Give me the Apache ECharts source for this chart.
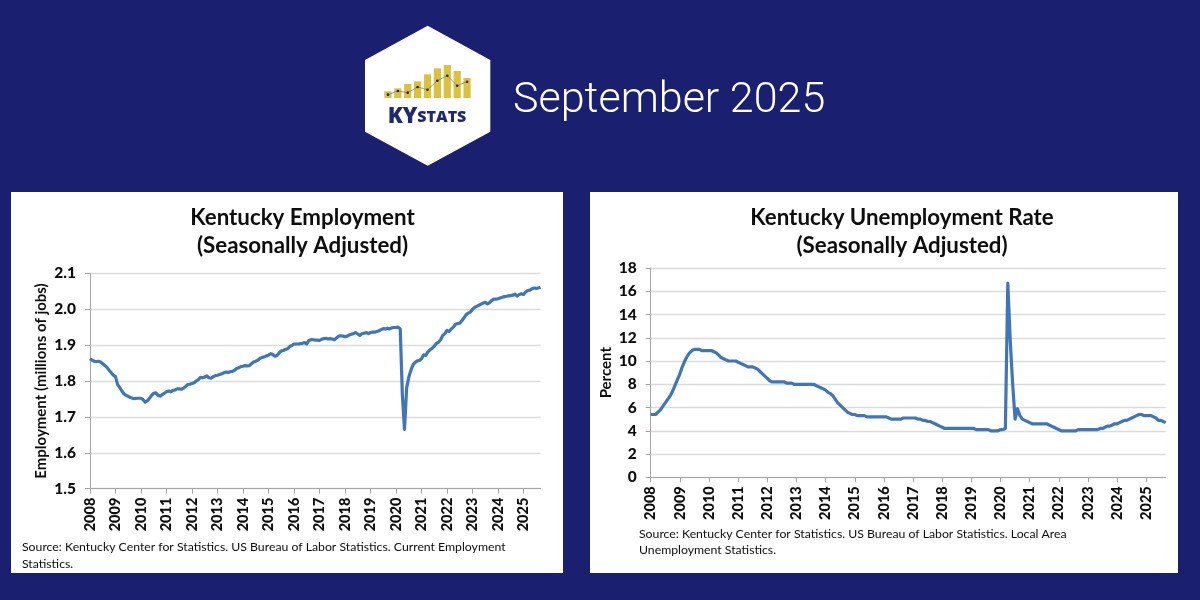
<!DOCTYPE html>
<html><head><meta charset="utf-8">
<style>html,body{margin:0;padding:0;background:#1a206f}#c{width:1200px;height:600px}</style>
<script src="https://cdn.jsdelivr.net/npm/echarts@6/dist/echarts.min.js"></script>
</head><body><div id="c"></div>
<script>
const years = [2008,2009,2010,2011,2012,2013,2014,2015,2016,2017,2018,2019,2020,2021,2022,2023,2024,2025];
const months = ['01','02','03','04','05','06','07','08','09','10','11','12'];
const employment = [
1.862,1.858,1.855,1.854,1.855,1.853,1.848,1.843,1.838,1.830,1.823,1.816,
1.812,1.790,1.782,1.772,1.764,1.760,1.757,1.754,1.752,1.751,1.752,1.752,
1.752,1.748,1.741,1.745,1.752,1.760,1.766,1.767,1.760,1.758,1.762,1.766,
1.770,1.772,1.770,1.774,1.775,1.778,1.778,1.777,1.780,1.785,1.790,1.791,
1.793,1.795,1.800,1.804,1.810,1.809,1.811,1.814,1.809,1.808,1.812,1.815,
1.816,1.818,1.820,1.823,1.825,1.824,1.826,1.827,1.830,1.835,1.837,1.840,
1.841,1.843,1.842,1.843,1.848,1.853,1.855,1.858,1.863,1.866,1.867,1.870,
1.872,1.876,1.874,1.869,1.871,1.878,1.884,1.885,1.888,1.890,1.896,1.899,
1.903,1.903,1.903,1.904,1.905,1.907,1.903,1.913,1.915,1.915,1.914,1.914,
1.913,1.916,1.918,1.919,1.917,1.918,1.917,1.915,1.920,1.925,1.926,1.925,
1.923,1.925,1.928,1.930,1.932,1.935,1.931,1.927,1.932,1.933,1.935,1.932,
1.935,1.936,1.936,1.938,1.940,1.943,1.946,1.945,1.947,1.945,1.948,1.949,
1.949,1.950,1.945,1.760,1.665,1.780,1.810,1.830,1.845,1.852,1.856,1.857,
1.862,1.873,1.871,1.881,1.887,1.891,1.897,1.905,1.908,1.915,1.927,1.932,
1.941,1.938,1.945,1.950,1.958,1.960,1.961,1.968,1.976,1.985,1.989,1.992,
2.000,2.005,2.008,2.011,2.014,2.017,2.019,2.015,2.018,2.024,2.028,2.028,
2.029,2.031,2.033,2.035,2.036,2.037,2.038,2.039,2.042,2.037,2.041,2.043,
2.041,2.048,2.052,2.053,2.057,2.059,2.058,2.059,2.061];
const unemployment = [
5.4,5.4,5.4,5.6,5.8,6.1,6.4,6.7,7.0,7.4,7.9,8.4,
8.9,9.5,10.0,10.4,10.7,10.9,11.0,11.0,11.0,10.9,10.9,10.9,
10.9,10.9,10.8,10.7,10.5,10.3,10.2,10.1,10.0,10.0,10.0,10.0,
9.9,9.8,9.7,9.6,9.5,9.5,9.5,9.4,9.3,9.1,8.9,8.7,
8.5,8.3,8.2,8.2,8.2,8.2,8.2,8.2,8.1,8.1,8.1,8.0,
8.0,8.0,8.0,8.0,8.0,8.0,8.0,8.0,7.9,7.8,7.7,7.6,
7.5,7.3,7.2,7.0,6.7,6.4,6.2,6.0,5.8,5.6,5.5,5.4,
5.4,5.3,5.3,5.3,5.3,5.2,5.2,5.2,5.2,5.2,5.2,5.2,
5.2,5.2,5.1,5.0,5.0,5.0,5.0,5.0,5.1,5.1,5.1,5.1,
5.1,5.1,5.0,5.0,4.9,4.9,4.8,4.8,4.7,4.6,4.5,4.4,
4.3,4.2,4.2,4.2,4.2,4.2,4.2,4.2,4.2,4.2,4.2,4.2,
4.2,4.2,4.1,4.1,4.1,4.1,4.1,4.1,4.0,4.0,4.0,4.0,
4.1,4.1,4.2,16.7,11.8,8.0,5.0,5.9,5.3,5.0,4.9,4.8,
4.7,4.6,4.6,4.6,4.6,4.6,4.6,4.6,4.5,4.4,4.3,4.2,
4.1,4.0,4.0,4.0,4.0,4.0,4.0,4.0,4.1,4.1,4.1,4.1,
4.1,4.1,4.1,4.1,4.1,4.2,4.2,4.3,4.4,4.4,4.5,4.6,
4.6,4.7,4.8,4.9,4.9,5.0,5.1,5.2,5.3,5.4,5.4,5.3,
5.3,5.3,5.3,5.2,5.1,4.9,4.9,4.8,4.7];
const logoBars = [20,29,42,50,71,89,99,81,60];
const logoLine = [10,21,16,33,25,52,67,37,49];
const logoCats = ['a','b','c','d','e','f','g','h','i'];

const cats = [];
years.forEach(y => months.forEach(m => cats.push(y + '-' + m)));
const catsEmp = cats.slice(0, employment.length);
const catsUn = cats.slice(0, unemployment.length);

const FONT = 'Lato';
const INK = '#0d0d0d';
const xAxis = (idx, data) => ({
  type:'category', gridIndex:idx, data, boundaryGap:false,
  axisLine:{onZero:false, lineStyle:{color:'#a6a6a6', width:1}},
  axisTick:{show:true, interval:(i)=>i%12===0, length:5, lineStyle:{color:'#a6a6a6', width:1}},
  axisLabel:{interval:(i)=>i%12===0, rotate:90, margin:9, padding:[4,0,0,0], color:INK, fontFamily:FONT, fontWeight:900, fontSize:14.5,
    formatter:v => v.slice(0,4)},
  splitLine:{show:false}
});
const yAxis = (idx, min, max, interval, name, gap, dec) => ({
  type:'value', gridIndex:idx, min, max, interval,
  name, nameLocation:'middle', nameGap:gap,
  nameTextStyle:{color:INK, fontFamily:FONT, fontWeight:'bold', fontSize:15},
  axisLine:{show:true, lineStyle:{color:'#a6a6a6', width:1}},
  axisTick:{show:true, length:5, lineStyle:{color:'#a6a6a6', width:1}},
  axisLabel:{margin:14, color:INK, fontFamily:FONT, fontWeight:900, fontSize:15.5, formatter:v => v.toFixed(dec)},
  splitLine:{show:true, lineStyle:{color:'#dcdcdc', width:1.4}}
});
const lineSeries = (idx, data) => ({
  type:'line', xAxisIndex:idx, yAxisIndex:idx, data, showSymbol:false, symbol:'none',
  smooth:false, lineStyle:{color:'#4176b6', width:3.2, join:'round'}, z:5, silent:true, animation:false
});
const txt = (x,y,text,size,weight,align) => ({type:'text', x, y, z:50,
  style:{text, fontFamily:FONT, fontSize:size, fontWeight:weight, fill:INK, textAlign:align, textVerticalAlign:'middle'}});

const chart = echarts.init(document.getElementById('c'), null, {renderer:'canvas'});
chart.setOption({
  animation:false,
  backgroundColor:'#1a206f',
  grid:[
    {left:90, top:273.3, width:450.5, height:215.4, containLabel:false},
    {left:650.7, top:268, width:515, height:209.3, containLabel:false},
    {left:383, top:64.7, width:89, height:33.3, containLabel:false}
  ],
  xAxis:[
    xAxis(0,catsEmp), xAxis(1,catsUn),
    {type:'category', gridIndex:2, data:logoCats, show:false}
  ],
  yAxis:[
    yAxis(0,1.5,2.1,0.1,'Employment (millions of jobs)',41,1),
    yAxis(1,0,18,2,'Percent',37,0),
    {type:'value', gridIndex:2, min:0, max:100, show:false}
  ],
  series:[
    lineSeries(0,employment),
    lineSeries(1,unemployment),
    {type:'bar', xAxisIndex:2, yAxisIndex:2, data:logoBars, barWidth:7.2, itemStyle:{color:'#dcc03f'}, z:5, silent:true},
    {type:'line', xAxisIndex:2, yAxisIndex:2, data:logoLine, symbol:'circle', symbolSize:2.6,
      lineStyle:{color:'#77776a', width:0.7}, itemStyle:{color:'#23233a'}, z:6, silent:true}
  ],
  graphic:{elements:[
    {type:'rect', z:-10, shape:{x:11,y:192,width:552,height:381}, style:{fill:'#fff'}},
    {type:'rect', z:-10, shape:{x:590,y:192,width:588,height:381}, style:{fill:'#fff'}},
    {type:'polygon', z:-10, shape:{points:[[427.7,25.7],[490.3,60],[490.3,131.7],[427.7,165.7],[365,131.7],[365,60]]}, style:{fill:'#fff'}},
    {type:'text', x:427, y:117, z:50, style:{
      rich:{a:{fontFamily:'Open Sans',fontWeight:800,fontSize:22,fill:'#1f2a6e'},b:{fontFamily:'Open Sans',fontWeight:800,fontSize:16,fill:'#1f2a6e'}},
      text:'{a|KY}{b|STATS}', textAlign:'center', textVerticalAlign:'middle'}},
    {type:'text', x:513, y:101, z:50, style:{text:'September 2025', fontFamily:'Roboto', fontWeight:300, fontSize:43, fill:'#fff', textAlign:'left', textVerticalAlign:'middle'}},
    txt(302.5,218,'Kentucky Employment',22.3,'bold','center'),
    txt(302.5,246,'(Seasonally Adjusted)',22.3,'bold','center'),
    txt(902,218,'Kentucky Unemployment Rate',22.3,'bold','center'),
    txt(902,246,'(Seasonally Adjusted)',22.3,'bold','center'),
    txt(22,547,'Source: Kentucky Center for Statistics. US Bureau of Labor Statistics. Current Employment',12.25,'normal','left'),
    txt(22,564,'Statistics.',12.25,'normal','left'),
    txt(639,534,'Source: Kentucky Center for Statistics. US Bureau of Labor Statistics. Local Area',12.25,'normal','left'),
    txt(639,550,'Unemployment Statistics.',12.25,'normal','left')
  ]}
});
</script></body></html>
